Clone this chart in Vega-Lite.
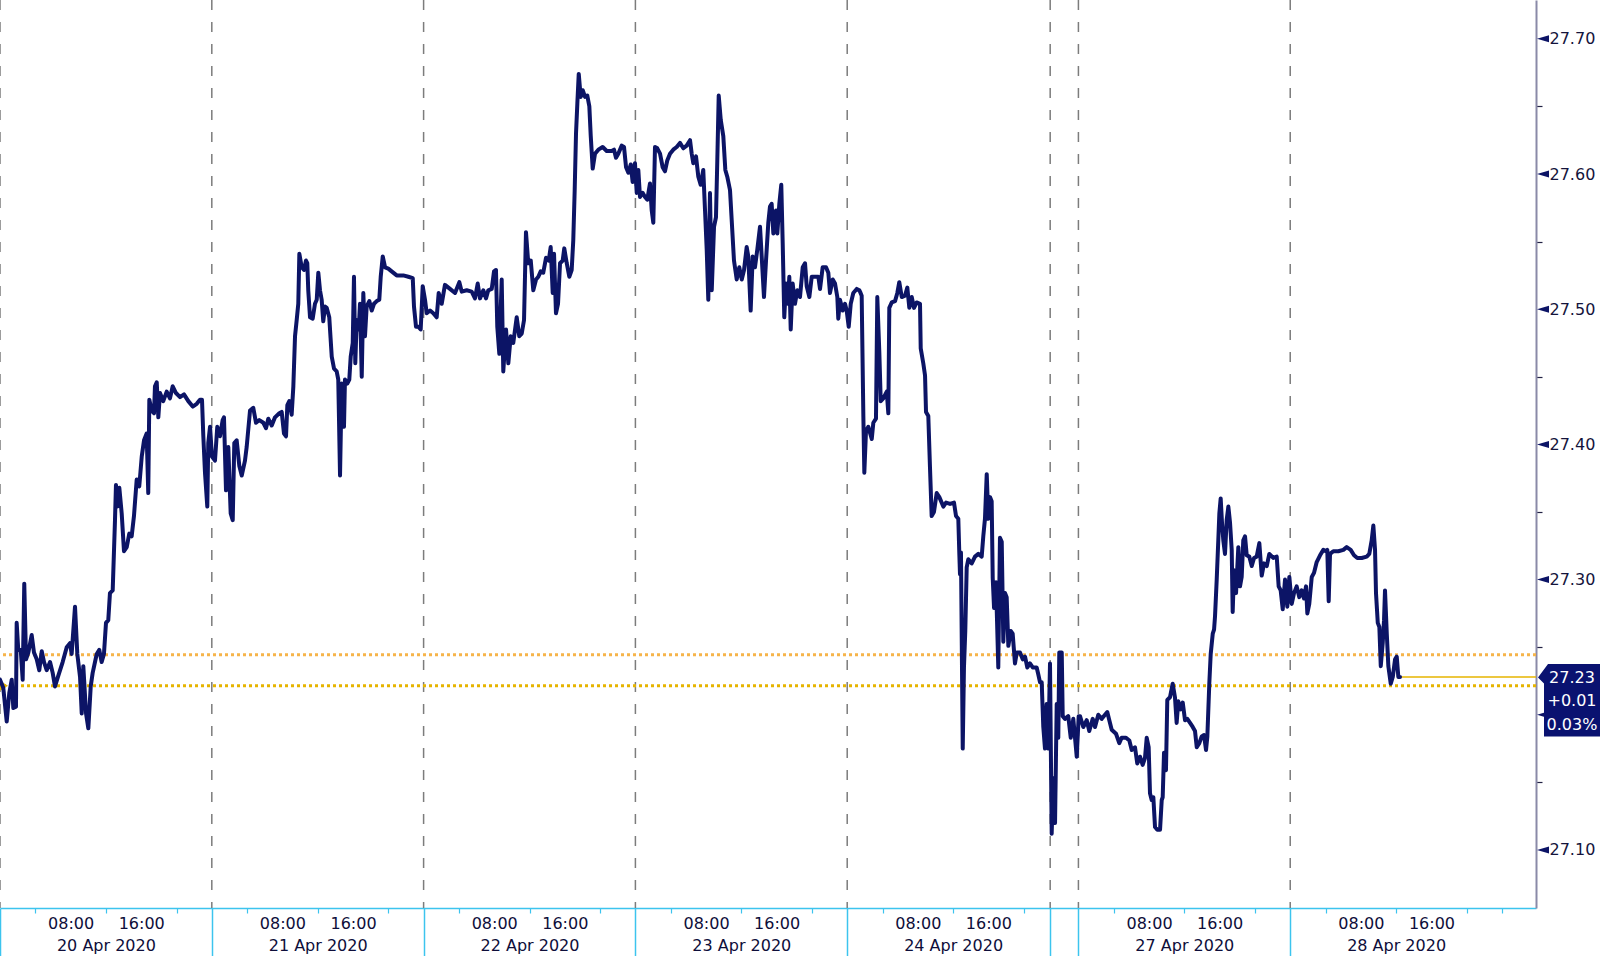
{
  "$schema": "https://vega.github.io/schema/vega-lite/v6.json",
  "width": 1536,
  "height": 908,
  "autosize": {"type": "none"},
  "padding": {"left": 0, "top": 0, "right": 64, "bottom": 48},
  "background": "white",
  "config": {"view": {"stroke": null}, "font": "DejaVu Sans"},
  "datasets": {
    "price": [
      {"t":0,"v":27.226},{"t":0.37,"v":27.220},{"t":0.76,"v":27.195},{"t":1.05,"v":27.216},{"t":1.33,"v":27.226},{"t":1.51,"v":27.205},{"t":1.81,"v":27.206},{"t":1.89,"v":27.268},{"t":2.07,"v":27.248},{"t":2.35,"v":27.248},
      {"t":2.57,"v":27.226},{"t":2.75,"v":27.297},{"t":2.95,"v":27.241},{"t":3.21,"v":27.246},{"t":3.59,"v":27.259},{"t":3.85,"v":27.246},{"t":4.16,"v":27.241},{"t":4.45,"v":27.233},{"t":4.73,"v":27.247},{"t":4.99,"v":27.239},
      {"t":5.29,"v":27.233},{"t":5.67,"v":27.239},{"t":5.97,"v":27.231},{"t":6.23,"v":27.221},{"t":6.61,"v":27.229},{"t":7.10,"v":27.239},{"t":7.56,"v":27.250},{"t":7.93,"v":27.253},{"t":8.12,"v":27.245},{"t":8.50,"v":27.280},
      {"t":8.76,"v":27.245},{"t":9.07,"v":27.228},{"t":9.26,"v":27.201},{"t":9.44,"v":27.236},{"t":9.75,"v":27.201},{"t":10.01,"v":27.190},{"t":10.28,"v":27.221},{"t":10.50,"v":27.231},{"t":10.96,"v":27.245},{"t":11.25,"v":27.248},
      {"t":11.52,"v":27.239},{"t":11.78,"v":27.245},{"t":12.01,"v":27.268},{"t":12.27,"v":27.270},{"t":12.46,"v":27.290},{"t":12.77,"v":27.292},{"t":13.03,"v":27.344},{"t":13.14,"v":27.370},{"t":13.29,"v":27.354},{"t":13.52,"v":27.368},
      {"t":13.79,"v":27.349},{"t":14.05,"v":27.321},{"t":14.36,"v":27.324},{"t":14.65,"v":27.334},{"t":14.92,"v":27.332},{"t":15.18,"v":27.347},{"t":15.49,"v":27.374},{"t":15.78,"v":27.369},{"t":16.06,"v":27.391},{"t":16.32,"v":27.403},
      {"t":16.62,"v":27.408},{"t":16.80,"v":27.364},{"t":16.92,"v":27.433},{"t":17.19,"v":27.425},{"t":17.45,"v":27.423},{"t":17.56,"v":27.443},{"t":17.76,"v":27.446},{"t":17.94,"v":27.420},{"t":18.13,"v":27.438},{"t":18.50,"v":27.432},
      {"t":18.89,"v":27.439},{"t":19.26,"v":27.434},{"t":19.57,"v":27.443},{"t":19.94,"v":27.438},{"t":20.40,"v":27.435},{"t":20.85,"v":27.437},{"t":21.34,"v":27.432},{"t":21.84,"v":27.428},{"t":22.29,"v":27.430},{"t":22.66,"v":27.433},
      {"t":22.89,"v":27.433},{"t":23.04,"v":27.406},{"t":23.23,"v":27.379},{"t":23.49,"v":27.354},{"t":23.60,"v":27.401},{"t":23.80,"v":27.413},{"t":24.02,"v":27.391},{"t":24.36,"v":27.388},{"t":24.62,"v":27.413},{"t":24.93,"v":27.406},
      {"t":25.23,"v":27.418},{"t":25.38,"v":27.420},{"t":25.61,"v":27.366},{"t":25.87,"v":27.398},{"t":26.14,"v":27.349},{"t":26.37,"v":27.344},{"t":26.55,"v":27.401},{"t":26.82,"v":27.403},{"t":27.12,"v":27.384},{"t":27.39,"v":27.377},
      {"t":27.76,"v":27.388},{"t":27.95,"v":27.398},{"t":28.33,"v":27.425},{"t":28.70,"v":27.427},{"t":29.01,"v":27.416},{"t":29.38,"v":27.418},{"t":29.84,"v":27.416},{"t":30.14,"v":27.412},{"t":30.40,"v":27.419},{"t":30.79,"v":27.414},
      {"t":31.16,"v":27.420},{"t":31.65,"v":27.423},{"t":31.92,"v":27.424},{"t":32.18,"v":27.408},{"t":32.41,"v":27.406},{"t":32.56,"v":27.429},{"t":32.78,"v":27.432},{"t":33.05,"v":27.422},{"t":33.24,"v":27.443},{"t":33.43,"v":27.480},
      {"t":33.62,"v":27.492},{"t":33.80,"v":27.504},{"t":33.92,"v":27.541},{"t":34.19,"v":27.531},{"t":34.45,"v":27.529},{"t":34.67,"v":27.536},{"t":34.82,"v":27.534},{"t":34.93,"v":27.514},{"t":35.13,"v":27.494},{"t":35.43,"v":27.493},
      {"t":35.69,"v":27.504},{"t":35.89,"v":27.507},{"t":36.07,"v":27.527},{"t":36.26,"v":27.514},{"t":36.45,"v":27.507},{"t":36.63,"v":27.491},{"t":36.83,"v":27.502},{"t":37.02,"v":27.501},{"t":37.31,"v":27.494},{"t":37.59,"v":27.465},
      {"t":37.85,"v":27.456},{"t":38.15,"v":27.454},{"t":38.33,"v":27.448},{"t":38.53,"v":27.377},{"t":38.72,"v":27.445},{"t":38.98,"v":27.413},{"t":39.09,"v":27.448},{"t":39.35,"v":27.445},{"t":39.58,"v":27.448},{"t":39.74,"v":27.465},
      {"t":39.97,"v":27.475},{"t":40.11,"v":27.524},{"t":40.26,"v":27.460},{"t":40.42,"v":27.492},{"t":40.65,"v":27.485},{"t":40.79,"v":27.504},{"t":40.99,"v":27.450},{"t":41.17,"v":27.512},{"t":41.36,"v":27.480},{"t":41.55,"v":27.502},
      {"t":41.85,"v":27.506},{"t":42.12,"v":27.499},{"t":42.38,"v":27.504},{"t":42.69,"v":27.506},{"t":42.98,"v":27.507},{"t":43.14,"v":27.524},{"t":43.37,"v":27.539},{"t":43.63,"v":27.531},{"t":44.00,"v":27.530},{"t":44.38,"v":27.528},
      {"t":44.95,"v":27.525},{"t":45.70,"v":27.525},{"t":46.27,"v":27.524},{"t":46.77,"v":27.523},{"t":46.91,"v":27.502},{"t":47.14,"v":27.487},{"t":47.40,"v":27.487},{"t":47.67,"v":27.485},{"t":47.90,"v":27.517},{"t":48.16,"v":27.507},
      {"t":48.35,"v":27.497},{"t":48.73,"v":27.499},{"t":49.10,"v":27.497},{"t":49.48,"v":27.494},{"t":49.71,"v":27.512},{"t":50.05,"v":27.504},{"t":50.42,"v":27.518},{"t":50.99,"v":27.515},{"t":51.56,"v":27.512},{"t":52.05,"v":27.520},
      {"t":52.32,"v":27.513},{"t":52.88,"v":27.514},{"t":53.45,"v":27.513},{"t":53.82,"v":27.508},{"t":54.13,"v":27.519},{"t":54.39,"v":27.508},{"t":54.77,"v":27.514},{"t":55.07,"v":27.508},{"t":55.33,"v":27.514},{"t":55.72,"v":27.515},
      {"t":55.98,"v":27.528},{"t":56.20,"v":27.529},{"t":56.35,"v":27.487},{"t":56.58,"v":27.467},{"t":56.85,"v":27.522},{"t":57.03,"v":27.454},{"t":57.34,"v":27.485},{"t":57.60,"v":27.460},{"t":57.87,"v":27.480},{"t":58.16,"v":27.475},
      {"t":58.55,"v":27.494},{"t":58.84,"v":27.480},{"t":59.12,"v":27.482},{"t":59.38,"v":27.492},{"t":59.60,"v":27.557},{"t":59.86,"v":27.534},{"t":60.14,"v":27.536},{"t":60.43,"v":27.514},{"t":60.74,"v":27.522},{"t":61.00,"v":27.524},
      {"t":61.27,"v":27.528},{"t":61.56,"v":27.527},{"t":61.87,"v":27.538},{"t":62.18,"v":27.536},{"t":62.40,"v":27.546},{"t":62.63,"v":27.512},{"t":62.78,"v":27.541},{"t":63.00,"v":27.497},{"t":63.23,"v":27.504},{"t":63.46,"v":27.534},
      {"t":63.76,"v":27.536},{"t":63.94,"v":27.545},{"t":64.22,"v":27.534},{"t":64.51,"v":27.524},{"t":64.78,"v":27.529},{"t":64.96,"v":27.551},{"t":65.12,"v":27.588},{"t":65.27,"v":27.630},{"t":65.42,"v":27.652},{"t":65.58,"v":27.674},
      {"t":65.80,"v":27.657},{"t":66.03,"v":27.662},{"t":66.29,"v":27.657},{"t":66.55,"v":27.658},{"t":66.78,"v":27.650},{"t":66.94,"v":27.628},{"t":67.16,"v":27.604},{"t":67.42,"v":27.615},{"t":67.80,"v":27.618},{"t":68.29,"v":27.620},
      {"t":68.75,"v":27.617},{"t":69.31,"v":27.617},{"t":69.58,"v":27.618},{"t":69.80,"v":27.612},{"t":70.06,"v":27.615},{"t":70.45,"v":27.621},{"t":70.71,"v":27.620},{"t":70.94,"v":27.605},{"t":71.20,"v":27.601},{"t":71.47,"v":27.607},
      {"t":71.69,"v":27.594},{"t":71.95,"v":27.608},{"t":72.15,"v":27.586},{"t":72.33,"v":27.603},{"t":72.52,"v":27.583},{"t":72.83,"v":27.586},{"t":73.09,"v":27.583},{"t":73.35,"v":27.581},{"t":73.65,"v":27.593},{"t":73.85,"v":27.573},
      {"t":74.03,"v":27.564},{"t":74.22,"v":27.620},{"t":74.48,"v":27.619},{"t":74.79,"v":27.615},{"t":75.09,"v":27.605},{"t":75.35,"v":27.602},{"t":75.61,"v":27.610},{"t":75.92,"v":27.615},{"t":76.29,"v":27.618},{"t":76.68,"v":27.620},
      {"t":77.05,"v":27.623},{"t":77.43,"v":27.619},{"t":77.81,"v":27.621},{"t":78.19,"v":27.625},{"t":78.38,"v":27.615},{"t":78.56,"v":27.608},{"t":78.87,"v":27.613},{"t":79.13,"v":27.598},{"t":79.40,"v":27.592},{"t":79.69,"v":27.603},
      {"t":79.89,"v":27.573},{"t":80.08,"v":27.544},{"t":80.26,"v":27.507},{"t":80.45,"v":27.586},{"t":80.65,"v":27.514},{"t":80.91,"v":27.561},{"t":81.13,"v":27.568},{"t":81.28,"v":27.610},{"t":81.44,"v":27.658},{"t":81.67,"v":27.640},
      {"t":81.96,"v":27.628},{"t":82.19,"v":27.603},{"t":82.41,"v":27.598},{"t":82.72,"v":27.588},{"t":82.91,"v":27.566},{"t":83.17,"v":27.536},{"t":83.48,"v":27.522},{"t":83.77,"v":27.531},{"t":84.05,"v":27.522},{"t":84.31,"v":27.529},
      {"t":84.61,"v":27.546},{"t":84.79,"v":27.539},{"t":85.06,"v":27.499},{"t":85.29,"v":27.539},{"t":85.55,"v":27.531},{"t":85.81,"v":27.544},{"t":86.12,"v":27.561},{"t":86.31,"v":27.539},{"t":86.57,"v":27.509},{"t":86.80,"v":27.536},
      {"t":87.06,"v":27.564},{"t":87.25,"v":27.576},{"t":87.44,"v":27.578},{"t":87.63,"v":27.556},{"t":87.93,"v":27.573},{"t":88.08,"v":27.556},{"t":88.31,"v":27.578},{"t":88.53,"v":27.592},{"t":88.69,"v":27.549},{"t":88.87,"v":27.494},
      {"t":89.06,"v":27.519},{"t":89.26,"v":27.504},{"t":89.44,"v":27.524},{"t":89.60,"v":27.485},{"t":89.82,"v":27.519},{"t":90.08,"v":27.504},{"t":90.35,"v":27.514},{"t":90.65,"v":27.509},{"t":90.96,"v":27.531},{"t":91.22,"v":27.534},
      {"t":91.41,"v":27.517},{"t":91.71,"v":27.509},{"t":91.98,"v":27.524},{"t":92.35,"v":27.524},{"t":92.73,"v":27.524},{"t":92.92,"v":27.515},{"t":93.22,"v":27.531},{"t":93.60,"v":27.531},{"t":93.86,"v":27.527},{"t":94.05,"v":27.512},
      {"t":94.36,"v":27.522},{"t":94.62,"v":27.519},{"t":94.88,"v":27.509},{"t":94.99,"v":27.493},{"t":95.18,"v":27.507},{"t":95.49,"v":27.499},{"t":95.75,"v":27.504},{"t":95.94,"v":27.499},{"t":96.17,"v":27.487},{"t":96.40,"v":27.504},
      {"t":96.69,"v":27.512},{"t":97.08,"v":27.515},{"t":97.37,"v":27.514},{"t":97.45,"v":27.513},{"t":97.64,"v":27.510},{"t":97.83,"v":27.421},{"t":97.94,"v":27.379},{"t":98.13,"v":27.410},{"t":98.39,"v":27.413},{"t":98.78,"v":27.404},
      {"t":98.96,"v":27.416},{"t":99.26,"v":27.419},{"t":99.41,"v":27.509},{"t":99.64,"v":27.468},{"t":99.80,"v":27.432},{"t":100.09,"v":27.434},{"t":100.48,"v":27.439},{"t":100.66,"v":27.423},{"t":100.77,"v":27.501},{"t":101.04,"v":27.505},
      {"t":101.42,"v":27.506},{"t":101.68,"v":27.512},{"t":101.90,"v":27.520},{"t":102.18,"v":27.509},{"t":102.55,"v":27.510},{"t":102.81,"v":27.516},{"t":103.04,"v":27.501},{"t":103.31,"v":27.509},{"t":103.57,"v":27.501},{"t":103.87,"v":27.505},
      {"t":104.25,"v":27.504},{"t":104.33,"v":27.471},{"t":104.62,"v":27.460},{"t":104.82,"v":27.451},{"t":104.93,"v":27.424},{"t":105.19,"v":27.421},{"t":105.38,"v":27.383},{"t":105.57,"v":27.347},{"t":105.83,"v":27.350},{"t":106.14,"v":27.364},
      {"t":106.44,"v":27.361},{"t":106.89,"v":27.354},{"t":107.20,"v":27.357},{"t":107.65,"v":27.356},{"t":108.10,"v":27.357},{"t":108.33,"v":27.347},{"t":108.59,"v":27.345},{"t":108.70,"v":27.320},{"t":108.78,"v":27.304},{"t":108.89,"v":27.320},
      {"t":109.09,"v":27.175},{"t":109.23,"v":27.235},{"t":109.38,"v":27.262},{"t":109.54,"v":27.309},{"t":109.72,"v":27.315},{"t":110.11,"v":27.312},{"t":110.48,"v":27.317},{"t":110.86,"v":27.319},{"t":111.24,"v":27.317},{"t":111.42,"v":27.332},
      {"t":111.61,"v":27.345},{"t":111.81,"v":27.378},{"t":111.99,"v":27.345},{"t":112.18,"v":27.361},{"t":112.37,"v":27.358},{"t":112.49,"v":27.301},{"t":112.64,"v":27.279},{"t":112.86,"v":27.298},{"t":113.12,"v":27.235},{"t":113.31,"v":27.331},
      {"t":113.51,"v":27.328},{"t":113.69,"v":27.254},{"t":113.88,"v":27.290},{"t":114.07,"v":27.287},{"t":114.26,"v":27.251},{"t":114.53,"v":27.262},{"t":114.75,"v":27.260},{"t":115.01,"v":27.238},{"t":115.21,"v":27.246},{"t":115.58,"v":27.246},
      {"t":115.89,"v":27.241},{"t":116.15,"v":27.243},{"t":116.41,"v":27.235},{"t":116.71,"v":27.238},{"t":117.02,"v":27.235},{"t":117.47,"v":27.235},{"t":117.65,"v":27.230},{"t":117.85,"v":27.224},{"t":118.04,"v":27.224},{"t":118.22,"v":27.191},
      {"t":118.41,"v":27.175},{"t":118.60,"v":27.208},{"t":118.79,"v":27.175},{"t":118.98,"v":27.238},{"t":119.17,"v":27.112},{"t":119.35,"v":27.153},{"t":119.55,"v":27.120},{"t":119.74,"v":27.208},{"t":119.92,"v":27.183},{"t":120.03,"v":27.246},
      {"t":120.31,"v":27.246},{"t":120.42,"v":27.199},{"t":120.68,"v":27.197},{"t":121.05,"v":27.199},{"t":121.33,"v":27.183},{"t":121.62,"v":27.197},{"t":122.01,"v":27.169},{"t":122.23,"v":27.199},{"t":122.38,"v":27.199},{"t":122.75,"v":27.191},
      {"t":123.14,"v":27.196},{"t":123.43,"v":27.188},{"t":123.82,"v":27.197},{"t":124.08,"v":27.191},{"t":124.45,"v":27.200},{"t":124.84,"v":27.197},{"t":125.21,"v":27.200},{"t":125.47,"v":27.202},{"t":125.70,"v":27.196},{"t":125.97,"v":27.189},
      {"t":126.46,"v":27.186},{"t":126.83,"v":27.179},{"t":127.10,"v":27.183},{"t":127.59,"v":27.183},{"t":127.97,"v":27.181},{"t":128.24,"v":27.174},{"t":128.61,"v":27.176},{"t":128.87,"v":27.164},{"t":129.18,"v":27.169},{"t":129.48,"v":27.163},
      {"t":129.74,"v":27.168},{"t":129.94,"v":27.183},{"t":130.16,"v":27.176},{"t":130.31,"v":27.142},{"t":130.50,"v":27.137},{"t":130.69,"v":27.139},{"t":130.88,"v":27.117},{"t":131.14,"v":27.115},{"t":131.45,"v":27.115},{"t":131.64,"v":27.137},
      {"t":131.75,"v":27.139},{"t":131.90,"v":27.172},{"t":132.12,"v":27.159},{"t":132.27,"v":27.211},{"t":132.58,"v":27.213},{"t":132.88,"v":27.223},{"t":133.14,"v":27.213},{"t":133.33,"v":27.194},{"t":133.52,"v":27.210},{"t":133.79,"v":27.204},
      {"t":134.02,"v":27.209},{"t":134.28,"v":27.196},{"t":134.54,"v":27.197},{"t":134.85,"v":27.194},{"t":135.15,"v":27.191},{"t":135.41,"v":27.188},{"t":135.61,"v":27.176},{"t":135.90,"v":27.179},{"t":136.17,"v":27.184},{"t":136.43,"v":27.185},
      {"t":136.66,"v":27.174},{"t":136.81,"v":27.184},{"t":137.03,"v":27.223},{"t":137.19,"v":27.245},{"t":137.42,"v":27.260},{"t":137.57,"v":27.263},{"t":137.68,"v":27.273},{"t":137.87,"v":27.300},{"t":138.05,"v":27.329},{"t":138.17,"v":27.349},
      {"t":138.32,"v":27.360},{"t":138.47,"v":27.342},{"t":138.62,"v":27.329},{"t":138.81,"v":27.319},{"t":139.00,"v":27.344},{"t":139.19,"v":27.354},{"t":139.38,"v":27.342},{"t":139.57,"v":27.322},{"t":139.68,"v":27.276},{"t":139.83,"v":27.307},
      {"t":140.06,"v":27.290},{"t":140.32,"v":27.324},{"t":140.51,"v":27.295},{"t":140.70,"v":27.302},{"t":140.88,"v":27.329},{"t":141.08,"v":27.332},{"t":141.27,"v":27.318},{"t":141.56,"v":27.317},{"t":141.84,"v":27.310},{"t":142.10,"v":27.316},
      {"t":142.40,"v":27.317},{"t":142.70,"v":27.327},{"t":142.97,"v":27.303},{"t":143.23,"v":27.312},{"t":143.54,"v":27.310},{"t":143.83,"v":27.319},{"t":144.28,"v":27.316},{"t":144.67,"v":27.317},{"t":144.89,"v":27.295},{"t":145.12,"v":27.292},
      {"t":145.35,"v":27.278},{"t":145.61,"v":27.300},{"t":145.87,"v":27.280},{"t":146.10,"v":27.302},{"t":146.37,"v":27.282},{"t":146.63,"v":27.290},{"t":146.93,"v":27.295},{"t":147.23,"v":27.287},{"t":147.50,"v":27.292},{"t":147.76,"v":27.286},
      {"t":147.99,"v":27.295},{"t":148.14,"v":27.275},{"t":148.36,"v":27.282},{"t":148.64,"v":27.302},{"t":148.90,"v":27.305},{"t":149.20,"v":27.313},{"t":149.58,"v":27.318},{"t":149.95,"v":27.322},{"t":150.25,"v":27.321},{"t":150.40,"v":27.322},
      {"t":150.56,"v":27.284},{"t":150.71,"v":27.319},{"t":151.08,"v":27.321},{"t":151.65,"v":27.321},{"t":152.22,"v":27.322},{"t":152.60,"v":27.324},{"t":153.05,"v":27.322},{"t":153.43,"v":27.318},{"t":153.80,"v":27.316},{"t":154.30,"v":27.316},
      {"t":154.87,"v":27.317},{"t":155.16,"v":27.319},{"t":155.43,"v":27.329},{"t":155.62,"v":27.340},{"t":155.81,"v":27.322},{"t":155.92,"v":27.290},{"t":156.12,"v":27.268},{"t":156.30,"v":27.265},{"t":156.46,"v":27.236},{"t":156.68,"v":27.253},
      {"t":156.83,"v":27.270},{"t":156.94,"v":27.292},{"t":157.14,"v":27.260},{"t":157.32,"v":27.236},{"t":157.59,"v":27.223},{"t":157.82,"v":27.228},{"t":158.08,"v":27.241},{"t":158.27,"v":27.243},{"t":158.45,"v":27.228},{"t":158.64,"v":27.228}
    ],
    "days": [{"t":0},{"t":24},{"t":48},{"t":72},{"t":96},{"t":119},{"t":122.2},{"t":146.2}],
    "levels": [{"v":27.2445,"level":"upper"},{"v":27.2215,"level":"previous close"}],
    "yticks": [{"v":27.1},{"v":27.2},{"v":27.3},{"v":27.4},{"v":27.5},{"v":27.6},{"v":27.7}],
    "last": [{"t":158.64,"v":27.228}],
    "tag": [{"v":27.2275,"price":"27.23","change":"+0.01","pct":"0.03%"}]
  },
  "resolve": {"scale": {"x": "shared", "y": "shared"}, "axis": {"x": "independent", "y": "independent"}},
  "layer": [
    {
      "data": {"name": "days"},
      "mark": {"type": "rule", "color": "#7c7c7c", "strokeWidth": 1.5, "strokeDash": [10, 12]},
      "encoding": {
        "x": {"field": "t", "type": "quantitative", "scale": {"domain": [0, 174.05], "nice": false, "zero": false},
          "axis": {"values": [0, 24, 48, 72, 96, 119, 122.2, 146.2], "orient": "bottom", "labels": false, "domain": false, "grid": false, "ticks": true, "tickSize": 48, "tickColor": "#3cc4ee", "tickWidth": 1.5, "title": null}}
      }
    },
    {
      "data": {"name": "levels"},
      "mark": {"type": "rule", "strokeWidth": 3, "strokeDash": [3, 3]},
      "encoding": {
        "y": {"field": "v", "type": "quantitative", "scale": {"domain": [27.0571, 27.7287], "nice": false, "zero": false},
          "axis": {"values": [27.15, 27.25, 27.35, 27.45, 27.55, 27.65], "orient": "right", "labels": false, "domain": false, "grid": false, "ticks": true, "tickSize": 6, "tickWidth": 1.2, "tickColor": "#222244", "title": null}},
        "color": {"field": "level", "type": "nominal", "scale": {"domain": ["upper", "previous close"], "range": ["#f6b44a", "#e6b400"]}, "legend": null}
      }
    },
    {
      "data": {"values": [{"t": 0, "v": 27.2215}]},
      "mark": {"type": "point", "shape": "M0,-5L8,0L0,5Z", "size": 4, "filled": true, "fill": "#e6b400", "opacity": 1, "strokeWidth": 0},
      "encoding": {
        "x": {"field": "t", "type": "quantitative", "scale": {"domain": [0, 174.05], "nice": false, "zero": false}, "axis": null},
        "y": {"field": "v", "type": "quantitative", "scale": {"domain": [27.0571, 27.7287], "nice": false, "zero": false}, "axis": null}
      }
    },
    {
      "data": {"name": "last"},
      "mark": {"type": "rule", "color": "#e6b400", "strokeWidth": 1.5},
      "encoding": {
        "x": {"field": "t", "type": "quantitative", "scale": {"domain": [0, 174.05], "nice": false, "zero": false},
          "axis": {"values": [12, 36, 60, 84, 108, 134.2, 158.2], "orient": "bottom", "domain": false, "ticks": false, "grid": false, "labelPadding": 29, "labelBaseline": "top", "labelFontSize": 16, "labelFont": "DejaVu Sans", "labelColor": "#0e0e3a", "labelFlush": false, "labelOverlap": false, "title": null,
            "labelExpr": "['20 Apr 2020','21 Apr 2020','22 Apr 2020','23 Apr 2020','24 Apr 2020','27 Apr 2020','28 Apr 2020'][indexof([12,36,60,84,108,134.2,158.2], datum.value)]"}},
        "x2": {"datum": 174.05},
        "y": {"field": "v", "type": "quantitative", "scale": {"domain": [27.0571, 27.7287], "nice": false, "zero": false}, "axis": null}
      }
    },
    {
      "data": {"name": "price"},
      "mark": {"type": "line", "color": "#0c1466", "strokeWidth": 4, "strokeJoin": "round", "strokeCap": "round"},
      "encoding": {
        "x": {"field": "t", "type": "quantitative", "scale": {"domain": [0, 174.05], "nice": false, "zero": false},
          "axis": {"values": [8, 16, 32, 40, 56, 64, 80, 88, 104, 112, 130.2, 138.2, 154.2, 162.2], "orient": "bottom", "domain": true, "domainColor": "#3cc4ee", "domainWidth": 1.5, "ticks": false, "grid": false, "labelPadding": 7, "labelBaseline": "top", "labelFontSize": 16, "labelFont": "DejaVu Sans", "labelColor": "#0e0e3a", "labelFlush": false, "labelOverlap": false, "title": null,
            "labelExpr": "indexof([8,32,56,80,104,130.2,154.2], datum.value) >= 0 ? '08:00' : '16:00'"}},
        "y": {"field": "v", "type": "quantitative", "scale": {"domain": [27.0571, 27.7287], "nice": false, "zero": false},
          "axis": {"values": [27.1, 27.3, 27.4, 27.5, 27.6, 27.7], "orient": "right", "format": ".2f", "ticks": false, "domain": true, "domainColor": "#8a8aa8", "domainWidth": 2, "grid": false, "labelPadding": 13, "labelFontSize": 16, "labelFont": "DejaVu Sans", "labelColor": "#14143c", "labelFlush": false, "labelBaseline": "middle", "title": null}}
      }
    },
    {
      "data": {"name": "yticks"},
      "mark": {"type": "point", "shape": "M1,0L13,-3.5L13,3.5Z", "size": 4, "filled": true, "fill": "#0c1466", "opacity": 1, "strokeWidth": 0},
      "encoding": {
        "x": {"datum": 174.05, "type": "quantitative", "scale": {"domain": [0, 174.05], "nice": false, "zero": false},
          "axis": {"values": [4, 12, 20, 28, 36, 44, 52, 60, 68, 76, 84, 92, 100, 108, 116, 126.2, 134.2, 142.2, 150.2, 158.2, 166.2, 170.2], "orient": "bottom", "labels": false, "domain": false, "grid": false, "ticks": true, "tickSize": 5, "tickColor": "#3cc4ee", "tickWidth": 1.2, "title": null}},
        "y": {"field": "v", "type": "quantitative", "scale": {"domain": [27.0571, 27.7287], "nice": false, "zero": false}, "axis": null}
      }
    },
    {
      "data": {"name": "tag"},
      "mark": {"type": "point", "shape": "M2,0L12,-13.5L66,-13.5L66,59L8,59L8,6Z", "size": 4, "filled": true, "fill": "#0a1270", "opacity": 1, "strokeWidth": 0},
      "encoding": {
        "x": {"datum": 174.05, "type": "quantitative", "scale": {"domain": [0, 174.05], "nice": false, "zero": false}, "axis": null},
        "y": {"field": "v", "type": "quantitative", "scale": {"domain": [27.0571, 27.7287], "nice": false, "zero": false}, "axis": null}
      }
    },
    {
      "data": {"name": "tag"},
      "mark": {"type": "text", "color": "white", "fontSize": 16, "font": "DejaVu Sans", "align": "center", "baseline": "middle", "dx": 36, "dy": 0},
      "encoding": {
        "x": {"datum": 174.05, "type": "quantitative", "scale": {"domain": [0, 174.05], "nice": false, "zero": false}, "axis": null},
        "y": {"field": "v", "type": "quantitative", "scale": {"domain": [27.0571, 27.7287], "nice": false, "zero": false}, "axis": null},
        "text": {"field": "price"}
      }
    },
    {
      "data": {"name": "tag"},
      "mark": {"type": "text", "color": "white", "fontSize": 16, "font": "DejaVu Sans", "align": "center", "baseline": "middle", "dx": 36, "dy": 23.5},
      "encoding": {
        "x": {"datum": 174.05, "type": "quantitative", "scale": {"domain": [0, 174.05], "nice": false, "zero": false}, "axis": null},
        "y": {"field": "v", "type": "quantitative", "scale": {"domain": [27.0571, 27.7287], "nice": false, "zero": false}, "axis": null},
        "text": {"field": "change"}
      }
    },
    {
      "data": {"name": "tag"},
      "mark": {"type": "text", "color": "white", "fontSize": 16, "font": "DejaVu Sans", "align": "center", "baseline": "middle", "dx": 36, "dy": 47},
      "encoding": {
        "x": {"datum": 174.05, "type": "quantitative", "scale": {"domain": [0, 174.05], "nice": false, "zero": false}, "axis": null},
        "y": {"field": "v", "type": "quantitative", "scale": {"domain": [27.0571, 27.7287], "nice": false, "zero": false}, "axis": null},
        "text": {"field": "pct"}
      }
    }
  ]
}
